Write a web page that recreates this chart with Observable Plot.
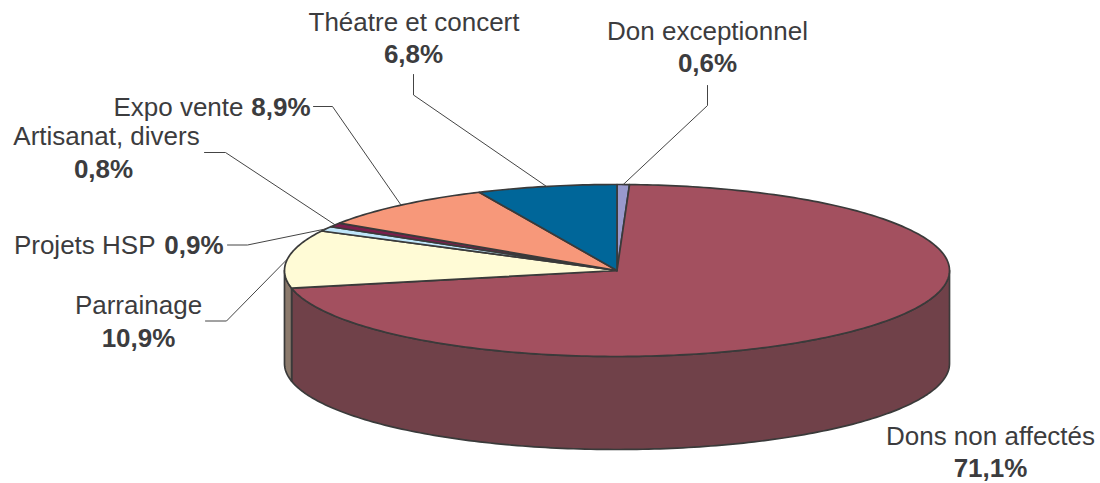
<!DOCTYPE html>
<html><head><meta charset="utf-8">
<script src="https://cdn.jsdelivr.net/npm/d3@7"></script>
<script src="https://cdn.jsdelivr.net/npm/@observablehq/plot@0.6"></script>
<style>html,body{margin:0;padding:0;background:#fff}svg{display:block}</style>
</head><body><div id="chart"></div>
<script>
// Data, in drawing order, clockwise from twelve o'clock
const categories = ["Don exceptionnel","Dons non affectés","Parrainage","Projets HSP","Artisanat, divers","Expo vente","Théatre et concert"];
const shares = [0.6,71.1,10.9,0.9,0.8,8.9,6.8];
const topColors = ["#9999cc","#a3505f","#fffbd6","#bfe5fa","#7a1f4c","#f7987a","#006699"];
const wallColors = {"Dons non affectés":"#704149","Parrainage":"#8c7a6c"};

// Pie geometry
const pie = {cx:616.5, cy:270, rx:332.5, ry:86, depth:93};
const rim = (deg, drop = 0) => {
  const a = deg * Math.PI / 180;
  return {x: pie.cx + pie.rx * Math.sin(a), y: pie.cy - pie.ry * Math.cos(a) + drop};
};
const arcPts = (a0, a1, drop = 0) => {
  const n = Math.max(2, Math.ceil(Math.abs(a1 - a0) / 1));
  return d3.range(n + 1).map(i => rim(a0 + (a1 - a0) * i / n, drop));
};

let acc = 0;
const slices = categories.map((name, i) => {
  const a0 = acc * 3.6; acc += shares[i]; const a1 = acc * 3.6;
  return {name, share: shares[i], a0, a1, mid: (a0 + a1) / 2, color: topColors[i]};
});
const byName = Object.fromEntries(slices.map(s => [s.name, s]));

// Walls: only the front half of the rim (90deg to 270deg) is visible
const walls = slices.filter(s => wallColors[s.name]).map(s => {
  const a0 = Math.max(s.a0, 90), a1 = Math.min(s.a1, 270);
  return {name: s.name, color: wallColors[s.name],
    pts: [...arcPts(a0, a1), ...arcPts(a1, a0, pie.depth)]};
});

// Label layout (page pixels)
const leaderBends = {
  "Don exceptionnel":[[707,105],[707,85]],
  "Théatre et concert":[[413,94.5],[413,74]],
  "Expo vente":[[332,106],[313,106]],
  "Artisanat, divers":[[225,152],[204,152]],
  "Projets HSP":[[247,244.5],[227,244.5]],
  "Parrainage":[[226,320.5],[205,320.5]]
};
const pct = v => v.toFixed(1).replace(".", ",") + "%";
const plain = [
  {t:"Théatre et concert", x:413.5, y:22, a:"middle"},
  {t:"Don exceptionnel", x:707, y:31, a:"middle"},
  {t:"Expo vente", x:243, y:107, a:"end"},
  {t:"Artisanat, divers", x:106, y:136, a:"middle"},
  {t:"Projets HSP", x:155, y:245, a:"end"},
  {t:"Parrainage", x:138, y:305, a:"middle"},
  {t:"Dons non affectés", x:990, y:436, a:"middle"}
];
const bold = [
  {n:"Théatre et concert", x:413, y:54, a:"middle"},
  {n:"Don exceptionnel", x:707, y:63, a:"middle"},
  {n:"Expo vente", x:310, y:107, a:"end"},
  {n:"Artisanat, divers", x:103, y:169, a:"middle"},
  {n:"Projets HSP", x:223, y:245, a:"end"},
  {n:"Parrainage", x:138, y:338, a:"middle"},
  {n:"Dons non affectés", x:990, y:468, a:"middle"}
].map(d => ({...d, t: pct(byName[d.n].share)}));

const outline = {stroke:"#3a3a3a", strokeWidth:1.7, strokeLinejoin:"round", curve:"linear"};
const ink = "#3c3c3e", fontSize = 26;
const textMark = (rows, fontWeight) => ["start","middle","end"].map(a =>
  Plot.text(rows.filter(d => d.a === a), {x:"x", y:"y", text:"t", textAnchor:a, fontSize, fontWeight, fill:ink}));

const chart = Plot.plot({
  width:1100, height:483, margin:0,
  x:{type:"linear", domain:[0,1100], range:[0,1100], axis:null},
  y:{type:"linear", domain:[0,483], range:[0,483], axis:null},
  style:{fontFamily:"'Liberation Sans', Arial, sans-serif", background:"#fff"},
  marks:[
    walls.map(w => Plot.line([...w.pts, w.pts[0]], {x:"x", y:"y", fill:w.color, ...outline})),
    slices.map(s => {
      const hub = {x:pie.cx, y:pie.cy};
      return Plot.line([hub, ...arcPts(s.a0, s.a1), hub], {x:"x", y:"y", fill:s.color, ...outline});
    }),
    Object.entries(leaderBends).map(([name, bends]) =>
      Plot.line([rim(byName[name].mid), ...bends.map(([x,y]) => ({x,y}))],
        {x:"x", y:"y", stroke:"#444", strokeWidth:1, curve:"linear"})),
    textMark(plain, "normal"),
    textMark(bold, "bold")
  ]
});
document.getElementById("chart").append(chart);
</script></body></html>
